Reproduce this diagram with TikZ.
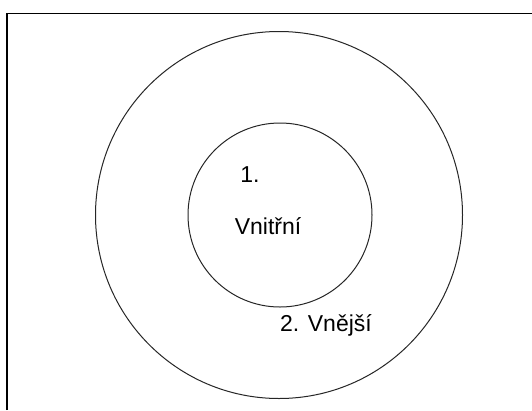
\documentclass[tikz,border=0pt]{standalone}
\usepackage{fontspec}
\setmainfont{Liberation Sans}
\tikzset{
  ring/.style={draw=black!85, line width=1pt},
  lbl/.style={font=\fontsize{23}{26}\selectfont, inner sep=0pt, anchor=center}
}
\begin{document}
\begin{tikzpicture}[x=1pt,y=-1pt]
\useasboundingbox (0,0) rectangle (532,410);
\fill[white] (0,0) rectangle (532,410);
% frame (left and top edges only visible)
\draw[line width=2pt] (7,410) -- (7,13.5);
\draw[line width=1pt] (6,13.5) -- (532,13.5);
% circles
\node[ring, circle, minimum size=367pt, inner sep=0pt] (outer) at (279,215) {};
\node[ring, circle, minimum size=184pt, inner sep=0pt] (inner) at (280,215) {};
% labels
\node[lbl] (n1) at (250,175) {1.};
\node[lbl] (vn) at (268,226) {Vnitřní};
\node[lbl] (ve) at (326,325) {2. Vnější};
\end{tikzpicture}
\end{document}
